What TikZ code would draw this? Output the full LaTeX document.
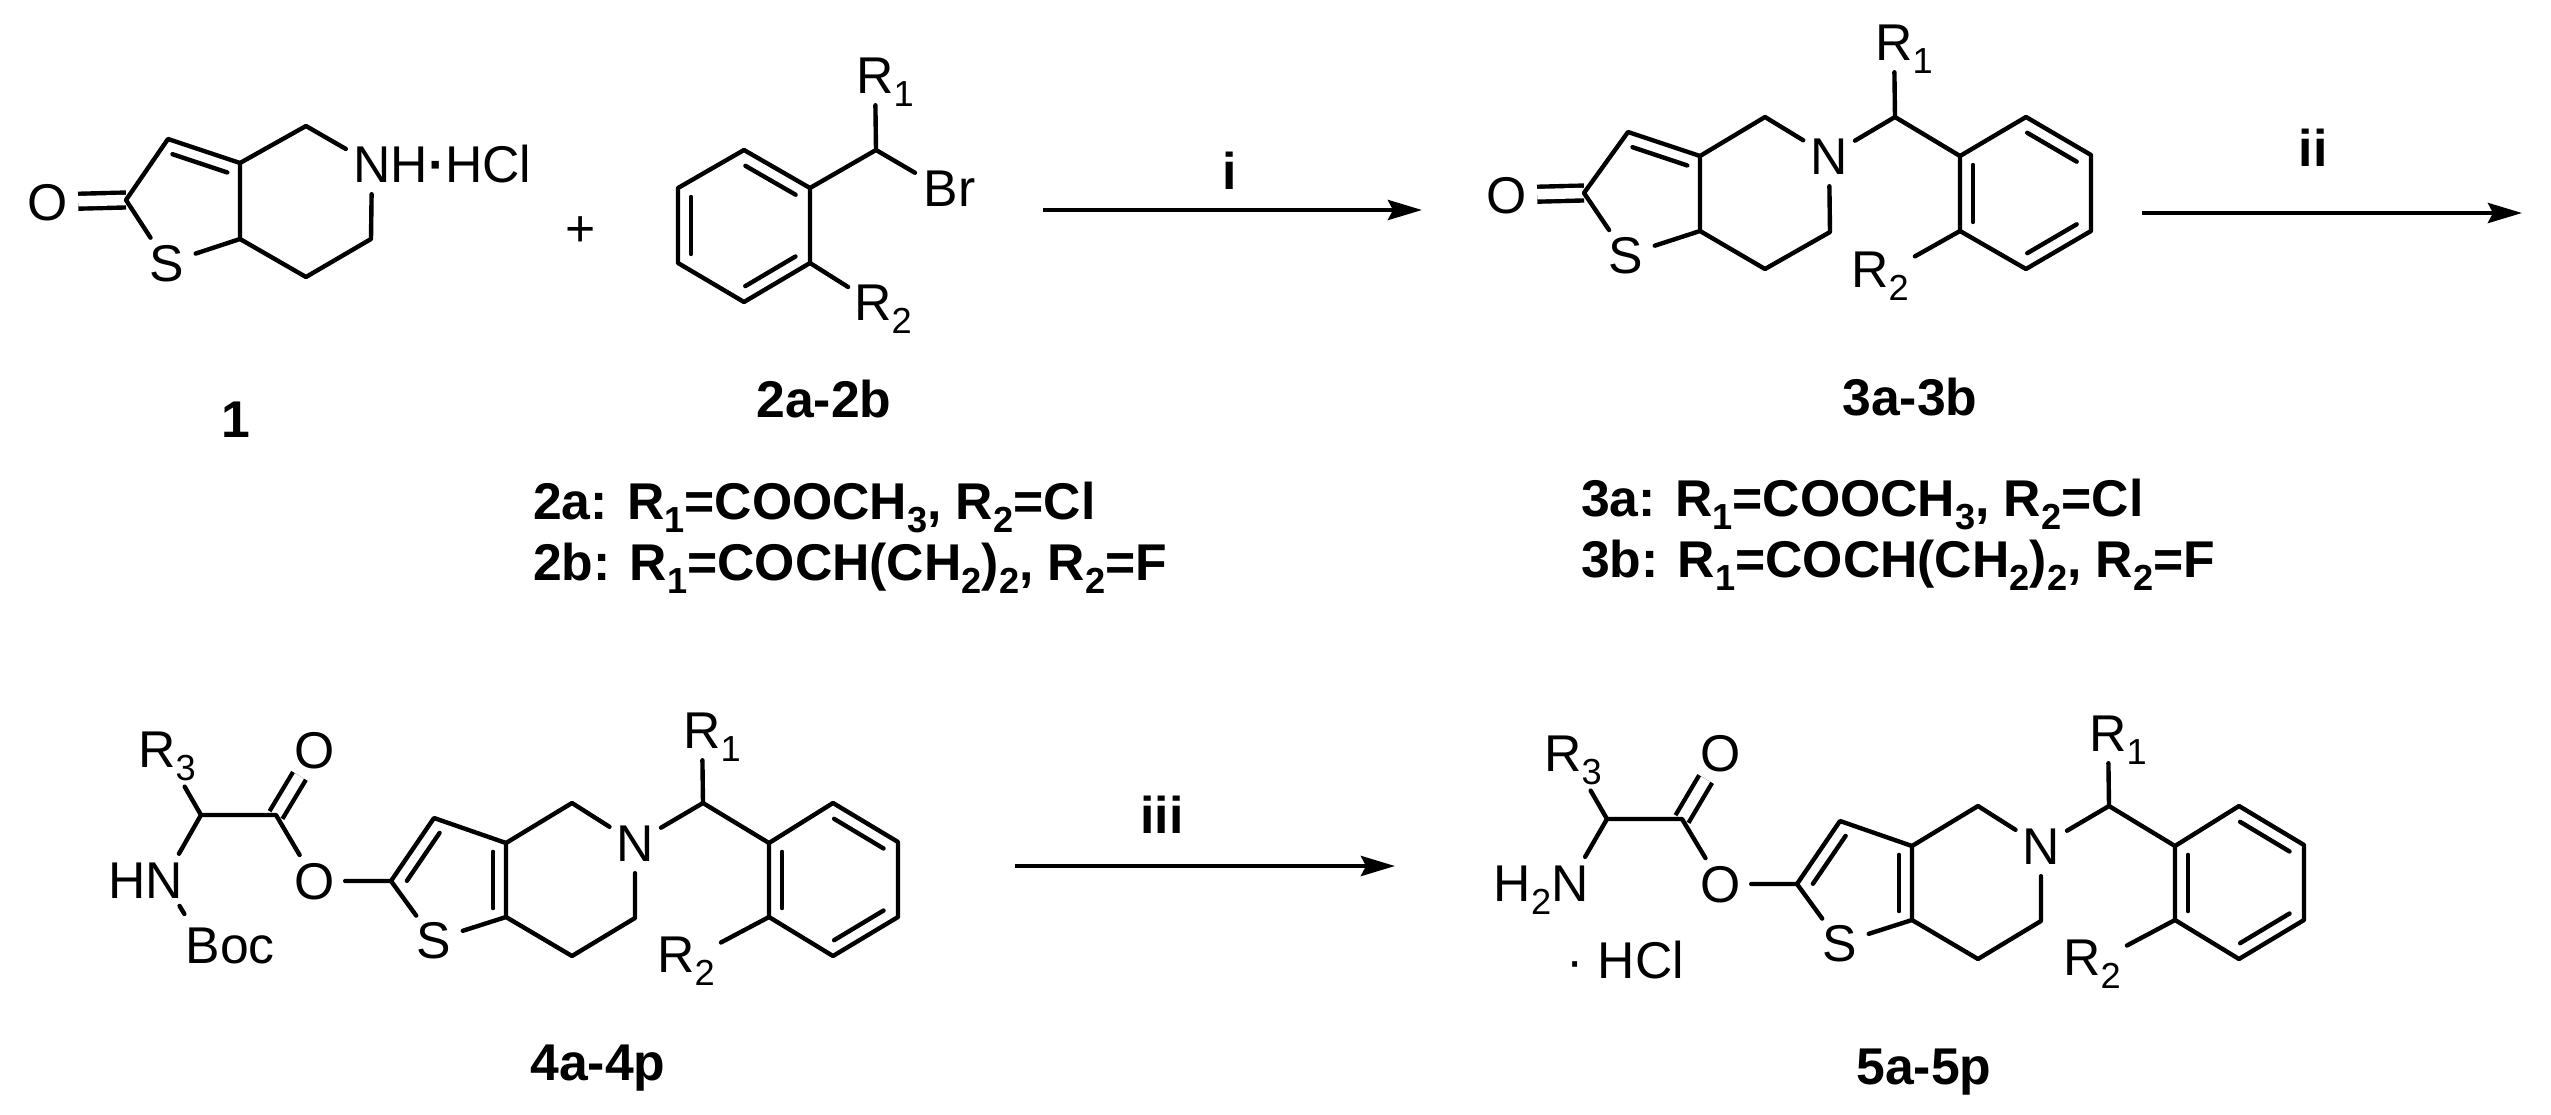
\documentclass[tikz,border=0pt]{standalone}
\usepackage{fontspec}
\setmainfont{Liberation Sans}
\usetikzlibrary{arrows.meta,calc}

\newcommand{\chemfont}{\fontsize{14.7}{17}\selectfont}
\newcommand{\subn}[1]{\raisebox{-0.13cm}{\fontsize{10.3}{12}\selectfont #1}}
\newcommand{\atomr}[2]{\makebox[0pt]{#1\rlap{#2}}}
\newcommand{\atoml}[2]{\makebox[0pt]{\llap{#1}#2}}
\newcommand{\dbl}[2]{\draw[]($(#1)!0.12!(#2)!0.13cm!90:(#2)$)--($(#2)!0.12!(#1)!0.13cm!-90:(#1)$);}

\tikzset{
  atom/.style={circle,inner sep=0pt,minimum size=0.56cm,text height=0.37cm,text depth=0pt,font=\chemfont},
  grp/.style={rectangle,inner sep=0.04cm,font=\chemfont},
  tag/.style={anchor=base,inner sep=0pt,font=\chemfont\bfseries},
  note/.style={anchor=base west,inner sep=0pt,font=\chemfont\bfseries},
  dblbond/.style={double,double distance=0.105cm,line cap=butt},
  rxn/.style={-{Stealth[length=0.34cm,width=0.2cm,inset=0.05cm]},line cap=butt}
}

\begin{document}
\begin{tikzpicture}[x=0.01cm,y=-0.01cm,line width=1.25pt,line cap=round,line join=round]
\useasboundingbox (0,0) rectangle (2551,1115);

\node[atom](A1) at (48,202){O};
\coordinate(A2) at (126,200);
\coordinate(A3) at (168,139);
\coordinate(A4) at (240,163);
\coordinate(A5) at (240,239);
\node[atom](A6) at (167,263){S};
\coordinate(A7) at (306,126);
\node[atom](A8) at (372,164){\atomr{N}{H{\bfseries·}HCl}};
\coordinate(A9) at (371,239);
\coordinate(A10) at (306,277);
\draw[dblbond](A1)--(A2);
\draw[](A6)--(A2)--(A3)--(A4)--(A5)--(A6);
\draw[](A4)--(A7)--(A8)--(A9)--(A10)--(A5);
\dbl{A4}{A3}
\node[tag](A11) at (236,437){1};

\node[atom](Plus) at (581,228){+};

\coordinate(B1) at (744,150);
\coordinate(B2) at (810,188);
\coordinate(B3) at (810,263);
\coordinate(B4) at (744,302);
\coordinate(B5) at (678,263);
\coordinate(B6) at (678,188);
\coordinate(B7) at (876,150);
\node[atom](B8) at (875,75){\atomr{R}{\subn{1}}};
\node[atom](B9) at (941,188){\atomr{B}{r}};
\node[grp](B10) at (883,309){R\subn{2}};
\draw[](B1)--(B2)--(B3)--(B4)--(B5)--(B6)--cycle;
\draw[](B2)--(B7)--(B8);
\draw[](B7)--(B9);
\draw[](B3)--(B10);
\dbl{B6}{B5}
\dbl{B4}{B3}
\dbl{B2}{B1}
\node[tag](B11) at (824,417){2a-2b};
\node[note](B12) at (531,519){2a: R\subn{1}=COOCH\subn{3}, R\subn{2}=Cl};
\node[note](B13) at (531,580){2b: R\subn{1}=COCH(CH\subn{2})\subn{2}, R\subn{2}=F};

\coordinate(P1) at (1043,210);
\coordinate(P2) at (1422,210);
\draw[rxn](P1)--(P2);
\node[tag](P7) at (1230,189){i};

\node[atom](C1) at (1507,195){O};
\coordinate(C2) at (1584,193);
\coordinate(C3) at (1628,132);
\coordinate(C4) at (1700,156);
\coordinate(C5) at (1700,231);
\node[atom](C6) at (1626,255){S};
\coordinate(C7) at (1765,117);
\node[atom](C8) at (1829,156){N};
\coordinate(C9) at (1830,232);
\coordinate(C10) at (1765,269);
\coordinate(C11) at (1895,117);
\node[atom](C12) at (1894,42){\atomr{R}{\subn{1}}};
\coordinate(C13) at (1960,156);
\coordinate(C14) at (2026,117);
\coordinate(C15) at (2091,155);
\coordinate(C16) at (2091,231);
\coordinate(C17) at (2026,269);
\coordinate(C18) at (1960,231);
\node[grp](C19) at (1880,276){R\subn{2}};
\draw[dblbond](C1)--(C2);
\draw[](C6)--(C2)--(C3)--(C4)--(C5)--(C6);
\draw[](C4)--(C7)--(C8)--(C9)--(C10)--(C5);
\draw[](C8)--(C11)--(C13);
\draw[](C11)--(C12);
\draw[](C13)--(C14)--(C15)--(C16)--(C17)--(C18)--cycle;
\draw[](C18)--(C19);
\dbl{C4}{C3}
\dbl{C13}{C18}
\dbl{C15}{C14}
\dbl{C17}{C16}
\node[tag](C20) at (1910,415){3a-3b};
\node[note](C21) at (1579,516){3a: R\subn{1}=COOCH\subn{3}, R\subn{2}=Cl};
\node[note](C22) at (1579,577){3b: R\subn{1}=COCH(CH\subn{2})\subn{2}, R\subn{2}=F};

\coordinate(P3) at (2142,213);
\coordinate(P4) at (2522,213);
\draw[rxn](P3)--(P4);
\node[tag](P8) at (2313,166){ii};

\node[grp](D1) at (167,756){R\subn{3}};
\coordinate(D2) at (201,815);
\coordinate(D3) at (276,815);
\node[atom](D4) at (315,750){O};
\node[atom](D5) at (315,881){O};
\node[atom](D6) at (164,880){\atoml{H}{N}};
\node[atom,minimum size=0.68cm](D7) at (203,945){\atomr{B}{oc}};
\coordinate(D8) at (391,881);
\coordinate(D9) at (434,818);
\coordinate(D10) at (506,843);
\coordinate(D11) at (506,917);
\node[atom](D12) at (434,940){S};
\coordinate(D13) at (572,803);
\node[atom](D14) at (635,843){N};
\coordinate(D15) at (635,918);
\coordinate(D16) at (572,956);
\coordinate(D17) at (703,803);
\node[atom](D18) at (702,730){\atomr{R}{\subn{1}}};
\coordinate(D19) at (769,843);
\coordinate(D20) at (833,803);
\coordinate(D21) at (898,842);
\coordinate(D22) at (898,917);
\coordinate(D23) at (833,956);
\coordinate(D24) at (769,917);
\node[grp](D25) at (686,961){R\subn{2}};
\draw[dblbond](D3)--(D4);
\draw[](D1)--(D2)--(D3)--(D5)--(D8);
\draw[](D2)--(D6)--(D7);
\draw[](D12)--(D8)--(D9)--(D10)--(D11)--(D12);
\draw[](D10)--(D13)--(D14)--(D15)--(D16)--(D11);
\draw[](D14)--(D17)--(D19);
\draw[](D17)--(D18);
\draw[](D19)--(D20)--(D21)--(D22)--(D23)--(D24)--cycle;
\draw[](D24)--(D25);
\dbl{D9}{D8}
\dbl{D11}{D10}
\dbl{D19}{D24}
\dbl{D21}{D20}
\dbl{D23}{D22}
\node[tag](D26) at (598,1080){4a-4p};

\coordinate(P5) at (1015,866);
\coordinate(P6) at (1395,866);
\draw[rxn](P5)--(P6);
\node[tag](P9) at (1162,833){iii};

\node[grp](E1) at (1573,760){R\subn{3}};
\coordinate(E2) at (1607,819);
\coordinate(E3) at (1682,819);
\node[atom](E4) at (1721,753){O};
\node[atom](E5) at (1721,884){O};
\node[atom](E6) at (1570,883){\atoml{H\subn{2}}{N}};
\node[grp,anchor=west,inner sep=0pt](E7) at (1564,960){· HCl};
\coordinate(E8) at (1797,884);
\coordinate(E9) at (1840,821);
\coordinate(E10) at (1912,846);
\coordinate(E11) at (1912,920);
\node[atom](E12) at (1840,943){S};
\coordinate(E13) at (1978,806);
\node[atom](E14) at (2041,846){N};
\coordinate(E15) at (2041,921);
\coordinate(E16) at (1978,959);
\coordinate(E17) at (2109,806);
\node[atom](E18) at (2108,733){\atomr{R}{\subn{1}}};
\coordinate(E19) at (2175,846);
\coordinate(E20) at (2239,806);
\coordinate(E21) at (2304,845);
\coordinate(E22) at (2304,920);
\coordinate(E23) at (2239,959);
\coordinate(E24) at (2175,920);
\node[grp](E25) at (2092,964){R\subn{2}};
\draw[dblbond](E3)--(E4);
\draw[](E1)--(E2)--(E3)--(E5)--(E8);
\draw[](E2)--(E6);
\draw[](E12)--(E8)--(E9)--(E10)--(E11)--(E12);
\draw[](E10)--(E13)--(E14)--(E15)--(E16)--(E11);
\draw[](E14)--(E17)--(E19);
\draw[](E17)--(E18);
\draw[](E19)--(E20)--(E21)--(E22)--(E23)--(E24)--cycle;
\draw[](E24)--(E25);
\dbl{E9}{E8}
\dbl{E11}{E10}
\dbl{E19}{E24}
\dbl{E21}{E20}
\dbl{E23}{E22}
\node[tag](E26) at (1924,1084){5a-5p};
\end{tikzpicture}
\end{document}
